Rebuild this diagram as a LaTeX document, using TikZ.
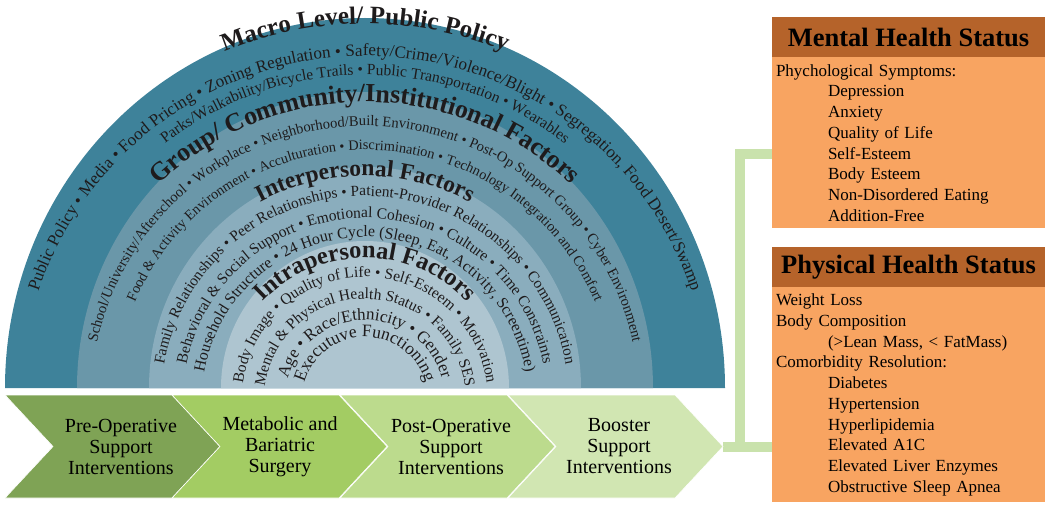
\documentclass[tikz,border=0pt]{standalone}
\usepackage{fontspec}
\setmainfont{Liberation Serif}
\usepackage{tikz}
\usetikzlibrary{positioning,calc,decorations.text}
\definecolor{macroteal}{RGB}{62,130,154}
\definecolor{groupteal}{RGB}{106,151,169}
\definecolor{interteal}{RGB}{138,173,189}
\definecolor{intrateal}{RGB}{174,197,208}
\definecolor{preolive}{RGB}{127,163,85}
\definecolor{surggreen}{RGB}{163,204,99}
\definecolor{postgreen}{RGB}{188,219,141}
\definecolor{boostgreen}{RGB}{209,230,178}
\definecolor{linkgreen}{RGB}{201,226,172}
\definecolor{statusbrown}{RGB}{181,99,42}
\definecolor{statusorange}{RGB}{248,164,97}
\definecolor{inkgray}{RGB}{30,27,28}

\newcommand{\arcfont}[1]{\fontsize{#1}{#1}\selectfont}
\newcommand{\titlefont}[1]{\fontsize{#1}{#1}\selectfont\bfseries}
% one line of text bent round the hub
\newcommand{\ringline}[3]{%
  \path[arctext,decoration={text={|#2|#3}}] ([shift={(200:#1)}]hub) arc[start angle=200,end angle=-20,radius=#1];}

\begin{document}
\begin{tikzpicture}[x=1pt,y=1pt,
    arctext/.style={decorate,decoration={text along path,text align=center,text color=inkgray}},
    phase/.style={align=center,font=\fontsize{20}{21}\selectfont,text=black},
    statushead/.style={fill=statusbrown,minimum width=273pt,minimum height=40pt,inner sep=0pt,font=\titlefont{26.5}},
    statusbody/.style={fill=statusorange,text width=265pt,inner xsep=4pt,inner ysep=0pt,align=left,font=\fontsize{17}{20.7}\selectfont,anchor=north},
    link/.style={linkgreen,line width=10pt}]
    \useasboundingbox (0,0) rectangle (1050,507);

    % Socio-ecological rings
    \fill[macroteal] (5,119) arc[start angle=180,end angle=0,x radius=360,y radius=370] -- cycle;
    \fill[groupteal] (77,119) arc[start angle=180,end angle=0,x radius=288,y radius=296] -- cycle;
    \fill[interteal] (149,119) arc[start angle=180,end angle=0,x radius=216,y radius=221] -- cycle;
    \fill[intrateal] (221,119) arc[start angle=180,end angle=0,x radius=144,y radius=147] -- cycle;

    % Ring texts
    \coordinate (hub) at (365,107);
    \ringline{376}{\titlefont{25}}{Macro Level/ Public Policy}
    \ringline{344}{\arcfont{17.1}}{Public Policy • Media • Food Pricing • Zoning Regulation •  Safety/Crime/Violence/Blight • Segregation, Food Desert/Swamp}
    \ringline{325}{\arcfont{15.5}}{Parks/Walkability/Bicycle Trails • Public Transportation • Wearables}
    \ringline{298}{\titlefont{26}}{Group/ Community/Institutional Factors}
    \ringline{274}{\arcfont{14.6}}{School/University/Afterschool • Workplace • Neighborhood/Built Environment • Post-Op Support Group • Cyber Environment}
    \ringline{250}{\arcfont{14.3}}{Food {\&} Activity Environment • Acculturation • Discrimination • Technology Integration and Comfort}
    \ringline{224}{\titlefont{23.5}}{Interpersonal Factors}
    \ringline{204}{\arcfont{15.3}}{Family Relationships • Peer Relationships • Patient-Provider Relationships • Communication}
    \ringline{182}{\arcfont{15.5}}{Behavioral {\&} Social Support • Emotional Cohesion •  Culture • Time Constraints}
    \ringline{163}{\arcfont{15.9}}{Household Structure • 24 Hour Cycle (Sleep, Eat, Activity, Screentime)}
    \ringline{142}{\titlefont{24.5}}{Intrapersonal Factors}
    \ringline{123}{\arcfont{15.5}}{Body Image • Quality of Life • Self-Esteem • Motivation}
    \ringline{101}{\arcfont{15.5}}{Mental {\&} Physical Health Status • Family SES}
    \ringline{80}{\arcfont{17}}{Age  • Race/Ethnicity • Gender}
    \ringline{63}{\arcfont{17.5}}{Executuve Functioning}

    % Links to the outcome boxes
    \coordinate (tip) at (723,60.5);
    \coordinate (fork) at (740,60.5);
    \coordinate (mentalin) at (772,353);
    \draw[link] (tip) -- (772,60.5);
    \draw[link] (fork) |- (mentalin);

    % Intervention chevrons
    \foreach \x/\col in {5/preolive,172/surggreen,340/postgreen,508/boostgreen}
        \filldraw[\col,draw=white,line width=0.6pt] (\x,112) -- ++(167,0) -- ++(48,-51.5) -- ++(-48,-51.5) -- ++(-167,0) -- ++(48,51.5) -- cycle;
    \node[phase] (preop) at (121,60.5) {Pre-Operative\\Support\\Interventions};
    \node[phase] (surgery) at (280,60.5) {Metabolic and\\Bariatric\\Surgery};
    \node[phase] (postop) at (451,60.5) {Post-Operative\\Support\\Interventions};
    \node[phase] (booster) at (619,60.5) {Booster\\Support\\Interventions};

    % Outcome boxes
    \node[statushead] (mentalhead) at (908.5,470) {Mental Health Status};
    \node[statusbody,minimum height=171pt,below=0pt of mentalhead] (mentalbody) {Phychological Symptoms:\\
        \hspace*{52pt}Depression\\
        \hspace*{52pt}Anxiety\\
        \hspace*{52pt}Quality of Life\\
        \hspace*{52pt}Self-Esteem\\
        \hspace*{52pt}Body Esteem\\
        \hspace*{52pt}Non-Disordered Eating\\
        \hspace*{52pt}Addition-Free};
    \node[statushead] (physicalhead) at (908.5,240) {Physical Health Status};
    \node[statusbody,minimum height=215pt,below=0pt of physicalhead] (physicalbody) {Weight Loss\\
        Body Composition\\
        \hspace*{52pt}(>Lean Mass, < FatMass)\\
        Comorbidity Resolution:\\
        \hspace*{52pt}Diabetes\\
        \hspace*{52pt}Hypertension\\
        \hspace*{52pt}Hyperlipidemia\\
        \hspace*{52pt}Elevated A1C\\
        \hspace*{52pt}Elevated Liver Enzymes\\
        \hspace*{52pt}Obstructive Sleep Apnea};
\end{tikzpicture}
\end{document}
